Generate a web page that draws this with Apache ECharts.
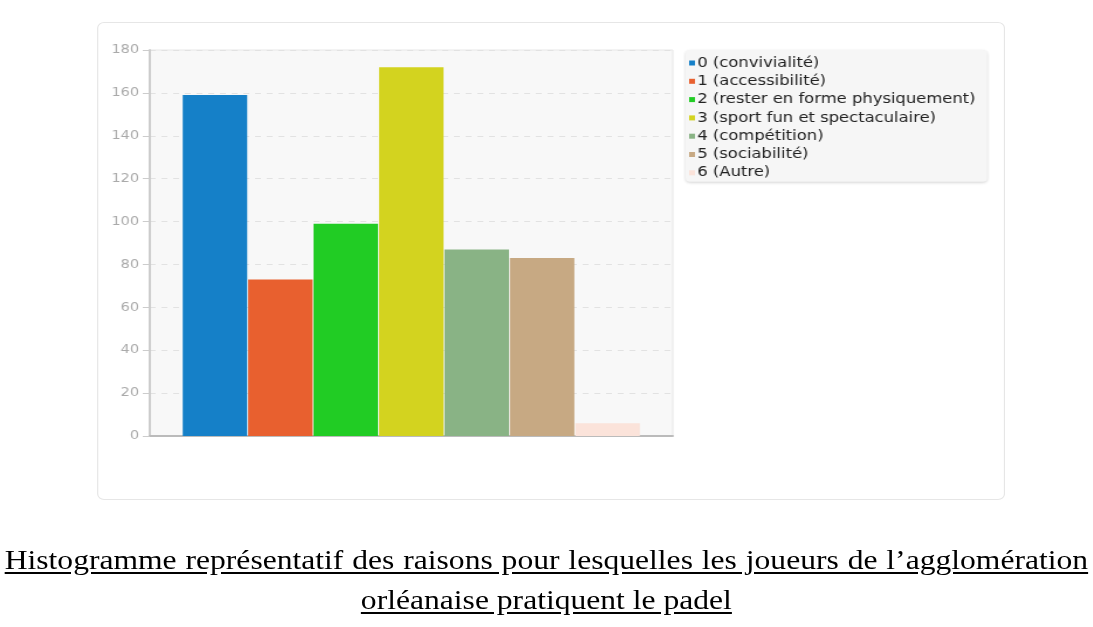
<!DOCTYPE html>
<html>
<head>
<meta charset="utf-8">
<script src="https://cdn.jsdelivr.net/npm/echarts@6/dist/echarts.min.js"></script>
<style>
html,body{margin:0;padding:0;background:#fff;width:1093px;height:627px;overflow:hidden;}
#stage{position:absolute;left:0;top:0;width:934px;height:627px;transform:scaleX(1.17);transform-origin:0 0;}
#card{position:absolute;left:83px;top:22px;width:774px;height:476px;border:1px solid #e6e6e6;border-radius:6px;background:#fff;}
#chart{position:absolute;left:0;top:0;width:934px;height:627px;}
.cap{position:absolute;font-family:"Liberation Serif","Times New Roman",serif;font-size:27px;color:#000;text-decoration:underline;text-underline-offset:3px;white-space:nowrap;}
#cap1{left:4px;top:545px;width:926px;text-align:justify;text-align-last:justify;white-space:normal;}
#cap2{left:0;width:934px;top:585px;text-align:center;}
</style>
</head>
<body>
<div id="stage">
<div id="card"></div>
<div id="chart"></div>
<div class="cap" id="cap1">Histogramme représentatif des raisons pour lesquelles les joueurs de l’agglomération</div>
<div class="cap" id="cap2">orléanaise pratiquent le padel</div>
</div>
<script>
const categories = [''];
const seriesNames = ['0 (convivialité)','1 (accessibilité)','2 (rester en forme physiquement)','3 (sport fun et spectaculaire)','4 (compétition)','5 (sociabilité)','6 (Autre)'];
const seriesValues = [159, 73, 99, 172, 87, 83, 6];
const seriesColors = ['#1580c8','#e8602f','#21cc24','#d3d31f','#89b385','#c7a983','#fbe3da'];
const yTicks = {min:0, max:180, interval:20};

const chart = echarts.init(document.getElementById('chart'), null, {renderer:'canvas'});
const series = seriesNames.map((name,i)=>({
  name: name,
  type: 'bar',
  data: [seriesValues[i]],
  barGap: '1.5%',
  barCategoryGap: '12.6%',
  itemStyle: {color: seriesColors[i]},
  emphasis: {disabled: true}
}));
chart.setOption({
  backgroundColor: 'transparent',
  animation: false,
  color: seriesColors,
  grid: {left:128, right:359, top:50, bottom:191, show:true, backgroundColor:'#f8f8f8', borderColor:'#e6e6e6', borderWidth:1},
  legend: {
    orient: 'vertical', left: 586, top: 50,
    data: seriesNames,
    icon: 'rect', itemWidth: 5, itemHeight: 5, itemGap: 2.3,
    backgroundColor: '#f6f6f6', borderRadius: 4, padding: [5, 10, 1, 3],
    shadowBlur: 3, shadowColor: 'rgba(0,0,0,0.18)', shadowOffsetY: 1,
    textStyle: {fontFamily:'DejaVu Sans', fontSize:14, color:'#222', lineHeight:16, padding:[0,0,0,-3]}
  },
  xAxis: {
    type: 'category', data: categories,
    axisLine: {show:true, lineStyle:{color:'#bbb', width:2}},
    axisTick: {show:false}, axisLabel: {show:false},
    splitLine: {show:false}
  },
  yAxis: {
    type: 'value', min: yTicks.min, max: yTicks.max, interval: yTicks.interval,
    axisLine: {show:true, lineStyle:{color:'#ccc', width:2}},
    axisTick: {show:true, length:6, lineStyle:{color:'#ccc'}},
    axisLabel: {color:'#aaa', fontFamily:'DejaVu Sans', fontSize:12.5, margin:9},
    splitLine: {show:true, lineStyle:{color:'#e2e2e2', type:[5,5]}}
  },
  series: series
});
</script>
</body>
</html>
